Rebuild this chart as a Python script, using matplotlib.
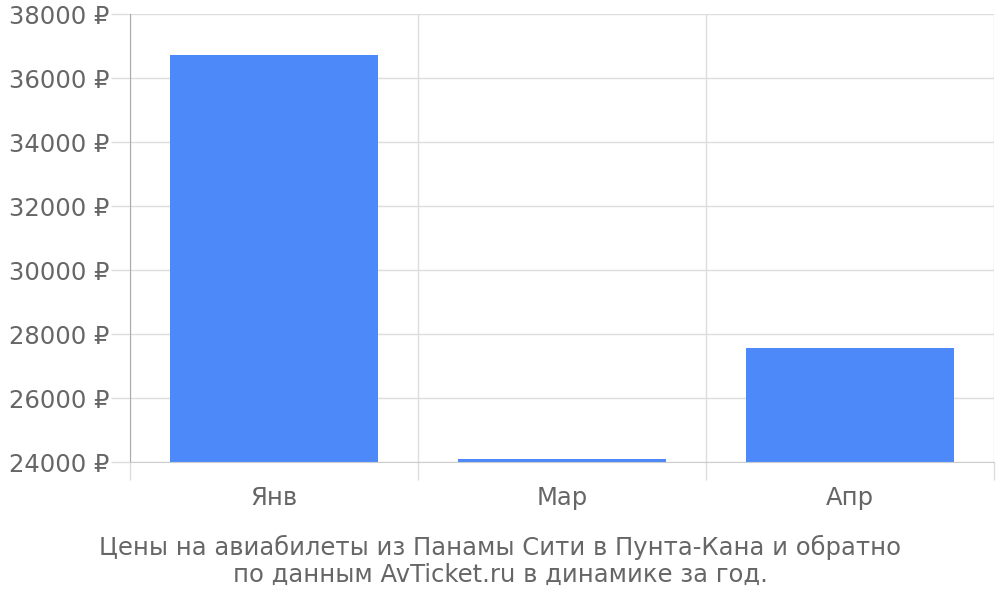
import matplotlib
matplotlib.use("Agg")
import matplotlib.pyplot as plt
from matplotlib.ticker import FuncFormatter

categories = ["Янв", "Мар", "Апр"]
prices = [36720, 24080, 27570]
y_ticks = [24000, 26000, 28000, 30000, 32000, 34000, 36000, 38000]
caption = "Цены на авиабилеты из Панамы Сити в Пунта-Кана и обратно\nпо данным AvTicket.ru в динамике за год."

plt.rcParams['font.family'] = ['DejaVu Sans']
text_color = "#666666"
grid_color = "#dddddd"
fs = 17.5

fig = plt.figure(figsize=(10, 6), dpi=100)
ax = fig.add_axes([0.13, 1 - 462 / 600, 0.994 - 0.13, (462 - 14) / 600])

x = list(range(len(categories)))
ax.bar(x, [p - y_ticks[0] for p in prices], bottom=y_ticks[0], width=0.72,
       color="#4d89f9", zorder=3)

ax.set_xlim(-0.5, len(categories) - 0.5)
ax.set_ylim(y_ticks[0], y_ticks[-1])
ax.set_yticks(y_ticks)
ax.yaxis.set_major_formatter(FuncFormatter(lambda v, p: f"{int(v)} ₽"))
ax.tick_params(axis='y', length=14, width=1, color=grid_color, pad=1,
               labelsize=fs, labelcolor=text_color)
ax.grid(axis='y', color=grid_color, linewidth=1, zorder=0)

ax.set_xticks(x)
ax.set_xticklabels(categories)
ax.tick_params(axis='x', which='major', length=0, pad=17, labelsize=fs,
               labelcolor=text_color)
ax.set_xticks([i - 0.5 for i in range(len(categories) + 1)], minor=True)
ax.tick_params(axis='x', which='minor', length=13, width=1, color=grid_color)
ax.grid(axis='x', which='minor', color=grid_color, linewidth=1, zorder=0)

for s in ['top', 'right']:
    ax.spines[s].set_visible(False)
ax.spines['left'].set_color("#aaaaaa")
ax.spines['bottom'].set_color("#cccccc")
ax.spines['bottom'].set_zorder(4)

fig.text(0.5, 1 - 561 / 600, caption, ha='center', va='center', fontsize=fs,
         color=text_color, linespacing=1.18)

fig.savefig("out.png", dpi=100)
